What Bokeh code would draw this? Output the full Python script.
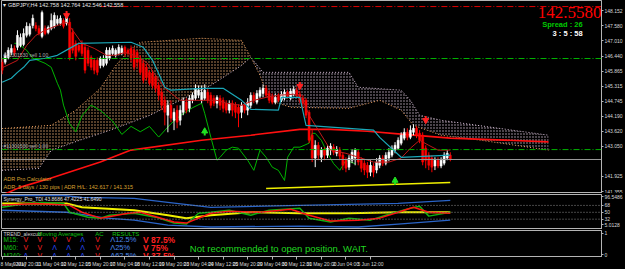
import numpy as np
from bokeh.plotting import figure
from bokeh.layouts import column
from bokeh.models import (Range1d, LinearAxis, FixedTicker, Label, Span, ColumnDataSource,
                          PrintfTickFormatter)
from bokeh.core.properties import value
from bokeh.embed import file_html
from bokeh.resources import INLINE

# ---------------- data ----------------
opens = [146.21,146.21,146.39,146.58,146.73,146.77,146.84,146.88,147.22,147.26,
         147.59,147.59,147.48,147.18,147.48,147.33,147.48,147.56,147.67,147.67,
         147.78,147.67,147.71,147.33,146.92,146.84,146.92,146.77,146.66,146.39,
         146.28,146.28,146.09,146.09,146.17,146.36,146.54,146.47,146.54,146.54,
         146.77,146.66,146.73,146.66,146.58,146.36,146.17,146.02,145.83,145.79,
         145.64,145.34,145.08,144.78,144.22,144.59,144.03,144.41,144.03,144.33,
         144.71,144.48,144.78,144.86,144.97,144.78,144.86,145.08,144.97,144.86,
         144.67,144.86,144.78,144.67,144.41,144.67,144.59,144.52,144.33,144.59,
         144.41,144.59,144.97,144.71,144.93,145.04,145.23,145.04,144.93,144.71,
         144.93,144.78,144.86,145.08,144.86,145.01,145.16,145.01,144.86,144.78,
         144.33,143.47,142.61,143.09,142.64,142.91,142.72,142.91,143.02,142.79,
         142.91,142.72,142.53,142.27,142.53,142.61,142.83,142.53,142.42,142.34,
         142.08,142.31,142.16,142.34,142.61,142.42,142.61,142.72,142.91,142.98,
         143.17,143.36,143.58,143.39,143.58,143.73,143.54,143.47,142.98,142.72,
         142.61,142.31,142.53,142.31,142.42,142.61,142.72]
closes = [145.91,146.47,146.66,146.73,146.58,147.22,147.14,147.29,147.56,147.56,
          147.86,147.48,147.29,148.08,147.29,147.52,147.78,147.97,147.82,147.86,
          147.56,147.93,146.39,146.66,146.43,146.66,146.54,145.91,146.17,146.02,
          145.91,145.83,146.36,146.36,146.66,146.66,146.73,146.66,146.77,146.73,
          146.54,146.54,146.36,146.02,146.21,145.83,145.53,145.64,145.42,145.34,
          145.23,144.97,144.59,144.33,144.59,144.11,144.33,143.96,144.41,144.78,
          144.41,144.86,144.97,145.23,145.16,145.08,145.16,144.78,144.59,144.67,
          144.89,144.59,144.48,144.41,144.67,144.41,144.33,144.29,144.59,144.41,
          144.71,144.97,144.78,145.04,145.16,145.23,144.97,144.78,144.71,144.89,
          144.78,145.01,145.08,144.93,145.12,145.19,144.97,144.78,144.67,144.22,
          143.28,142.61,143.09,142.72,142.91,142.72,142.98,143.06,142.83,142.94,
          142.68,142.34,142.23,142.61,142.83,142.91,142.46,142.23,142.16,142.08,
          142.34,142.08,142.46,142.61,142.42,142.72,142.83,142.98,143.09,143.28,
          143.47,143.58,143.39,143.66,143.73,143.47,143.28,142.46,142.53,142.34,
          142.27,142.53,142.31,142.53,142.72,142.79,142.56]
highs = [146.36,146.58,146.77,146.88,146.84,147.41,147.29,147.48,147.71,147.67,
         148.00,147.71,147.59,148.15,147.59,147.59,148.04,148.08,147.97,147.97,
         147.86,148.08,147.86,147.48,147.03,146.96,147.03,146.88,146.77,146.47,
         146.36,146.39,146.43,146.47,146.77,146.77,146.84,146.73,146.88,146.84,
         146.84,146.73,146.84,146.77,146.66,146.47,146.28,146.13,145.91,145.91,
         145.72,145.46,145.23,144.93,144.78,144.78,144.48,144.59,144.59,144.89,
         144.86,144.97,145.08,145.38,145.34,145.34,145.38,145.23,145.08,144.97,
         144.97,144.97,144.89,144.78,144.78,144.78,144.71,144.63,144.71,144.71,
         144.86,145.08,145.08,145.16,145.27,145.38,145.34,145.16,145.04,145.04,
         145.04,145.12,145.19,145.16,145.23,145.31,145.27,145.12,144.97,144.86,
         144.41,143.66,143.28,143.21,143.02,143.02,143.09,143.17,143.13,143.06,
         143.02,142.83,142.64,142.72,142.94,142.98,142.91,142.64,142.53,142.46,
         142.53,142.42,142.61,142.72,142.72,142.83,142.98,143.09,143.21,143.39,
         143.58,143.73,143.73,143.84,143.88,143.81,143.66,143.58,143.09,142.83,
         142.72,142.64,142.64,142.64,142.83,142.91,142.83]
lows = [145.76,146.13,146.32,146.47,146.43,146.66,146.77,146.81,147.14,147.18,
        147.48,147.37,147.22,147.11,147.22,147.26,147.41,147.48,147.59,147.59,
        147.48,147.59,146.28,146.54,146.28,146.58,146.43,145.79,146.06,145.91,
        145.76,145.72,145.98,146.02,146.09,146.28,146.47,146.39,146.47,146.47,
        146.43,146.47,146.21,145.91,146.02,145.72,145.42,145.53,145.34,145.23,
        145.08,144.78,144.41,143.84,143.58,143.96,143.66,143.73,143.84,144.22,
        144.29,144.33,144.67,144.78,144.86,144.67,144.78,144.67,144.48,144.56,
        144.48,144.41,144.33,144.29,144.29,144.18,144.11,143.77,144.11,144.29,
        144.22,144.48,144.67,144.63,144.86,144.89,144.89,144.67,144.63,144.63,
        144.71,144.71,144.78,144.86,144.78,144.93,144.89,144.67,144.48,144.11,
        143.17,142.46,142.27,142.53,142.46,142.53,142.61,142.72,142.72,142.68,
        142.53,142.16,142.08,142.16,142.42,142.34,142.34,142.08,141.97,141.86,
        141.93,141.89,142.04,142.23,142.31,142.34,142.49,142.64,142.79,142.91,
        143.09,143.28,143.28,143.32,143.47,143.36,143.17,142.34,142.23,142.16,
        142.08,142.16,142.23,142.23,142.34,142.53,142.49]

# Ichimoku lines (bar, price vertices)
kijun_bars = [0, 3, 5, 7, 9, 14, 18, 22, 25, 42, 46, 49, 51, 53, 55, 65, 72, 78, 81, 90, 91, 97, 99, 121, 123, 130, 146]
kijun_vals = [145.46, 145.61, 145.83, 146.02, 146.28, 146.36, 146.47, 146.73, 146.92, 146.96, 146.77, 146.28,
              145.79, 145.27, 145.16, 145.23, 145.23, 144.78, 144.44, 144.41, 144.89, 144.89, 143.84, 143.66,
              143.39, 142.64, 142.72]
tenkan_bars = [0, 5, 8, 11, 14, 18, 21, 23, 26, 30, 34, 37, 40, 43, 47, 50, 53, 58, 63, 70, 73, 78, 82, 86,
               90, 95, 98, 100, 103, 107, 112, 117, 121, 126, 130, 133, 136, 139, 142, 146]
tenkan_vals = [146.00, 146.28, 146.84, 147.22, 147.41, 147.59, 147.71, 147.41, 146.92, 146.73, 146.47, 146.47,
               146.58, 146.47, 146.21, 145.72, 145.23, 144.78, 144.78, 144.78, 144.67, 144.59, 144.78, 144.89,
               144.97, 145.01, 144.78, 144.22, 143.66, 142.91, 142.79, 142.61, 142.46, 142.46, 142.61, 142.98,
               143.28, 143.09, 142.91, 142.91]
chikou_bars = [4, 5, 8, 10, 14, 16, 18, 19, 20, 22, 24, 26, 29, 32, 36, 39, 42, 45, 48, 51, 55, 58, 62, 65,
               66, 68, 70, 71, 73, 75, 77, 80, 82, 84, 86, 88, 90, 92, 93, 95, 97, 100, 101, 102, 104, 106,
               108, 110, 112, 115]
chikou_vals = [146.92, 146.92, 146.66, 146.36, 146.17, 146.02, 145.42, 145.16, 144.60, 143.90, 143.60, 144.20,
               144.60, 144.40, 144.00, 143.50, 143.80, 143.60, 143.80, 143.40, 143.90, 144.20, 144.50, 144.67,
               144.29, 143.39, 142.53, 142.64, 142.91, 143.02, 142.98, 142.53, 142.15, 142.91, 142.64, 142.27,
               142.15, 141.77, 142.64, 143.02, 143.02, 143.17, 143.54, 143.54, 143.28, 142.79, 142.40, 142.15,
               142.53, 142.40]
spanA_bars = [0, 16, 24, 32, 37, 42, 45, 65, 78, 81, 84, 87, 94, 113, 123, 130, 134, 143, 156, 178]
spanA_vals = [143.72, 143.84, 144.41, 145.23, 146.09, 146.73, 146.96, 147.11, 147.03, 146.40, 145.72, 144.78,
              144.52, 144.48, 144.78, 144.41, 143.84, 143.47, 143.28, 142.91]
spanB_bars = [0, 12, 16, 25, 35, 48, 58, 68, 78, 81, 85, 97, 113, 116, 130, 133, 136, 143, 178]
spanB_vals = [142.15, 142.22, 142.90, 143.27, 143.65, 144.21, 144.78, 145.34, 146.09, 146.40, 145.83, 145.83,
              145.83, 145.27, 145.16, 144.78, 144.22, 144.03, 143.47]
ma_bars = [0, 6, 16, 32, 42, 65, 81, 97, 107, 119, 130, 146, 178]
ma_vals = [141.22, 141.52, 141.86, 142.46, 142.91, 143.28, 143.47, 143.69, 143.69, 143.62, 143.51, 143.36,
           143.22]
adr_bars = [86, 146]
adr_vals = [141.47, 141.69]
sell_arrow_bars = [21, 97, 138]
sell_arrow_vals = [147.97, 145.31, 144.03]
buy_arrow_bars = [66, 128]
buy_arrow_vals = [143.62, 141.77]
bid = 142.558
order_levels = [146.35, 142.93]
stop_level = 148.30
price_ticks = [148.152, 147.580, 147.010, 146.440, 145.865, 145.315, 144.745, 144.190, 143.620, 143.050,
               141.925, 141.355]

# TDI (bar, value vertices)
tdi_up_bars = [0, 20, 26, 43, 54, 68, 97, 129, 146]
tdi_up_vals = [93.97, 93.97, 88.8, 86.2, 75.9, 63.0, 68.2, 73.3, 81.1]
tdi_lo_bars = [0, 21, 34, 43, 54, 68, 97, 116, 129, 146]
tdi_lo_vals = [55.3, 50.1, 34.7, 29.5, 16.6, 11.5, 14.1, 11.5, 19.2, 29.5]
tdi_base_bars = [0, 21, 26, 43, 54, 60, 68, 81, 97, 113, 129, 146]
tdi_base_vals = [73.3, 73.3, 63.0, 55.3, 42.4, 34.7, 42.4, 50.1, 47.6, 47.6, 50.1, 50.1]
tdi_rsi_bars = [0, 8, 13, 20, 22, 28, 32, 35, 43, 50, 56, 60, 64, 68, 74, 81, 87, 97, 100, 107, 113, 120,
                126, 133, 136, 139, 146]
tdi_rsi_vals = [63.0, 73.3, 75.9, 73.3, 50.1, 37.3, 34.7, 42.4, 47.6, 37.3, 21.8, 19.2, 47.6, 50.1, 55.3,
                42.4, 55.3, 60.5, 34.7, 24.4, 34.7, 29.5, 45.0, 60.5, 65.6, 40.0, 50.1]
tdi_sig_bars = [0, 11, 22, 26, 32, 41, 45, 56, 60, 68, 74, 84, 94, 100, 107, 116, 123, 129, 134, 139, 146]
tdi_sig_vals = [68.2, 73.3, 68.2, 50.1, 34.7, 47.6, 50.1, 24.4, 21.8, 47.6, 52.7, 50.1, 57.9, 42.4, 27.0,
                29.5, 34.7, 50.1, 63.0, 50.1, 47.6]
tdi_levels = [68, 50, 32]

# time axis
tick_bars = [0, 8, 16, 24, 32, 40, 48, 56, 64, 72, 80, 88, 96, 104, 112, 120]
tick_labels = ["8 May 2017", "9 May 20:00", "11 May 04:00", "12 May 12:00", "15 May 20:00", "17 May 04:00",
               "18 May 12:00", "19 May 20:00", "23 May 04:00", "24 May 12:00", "25 May 20:00",
               "29 May 04:00", "30 May 12:00", "31 May 20:00", "2 Jun 04:00", "5 Jun 12:00"]

# signal table
timeframes = ["M15:", "M60:", "M240:"]
ma_signals = [["V", "V", "V", "V", "Λ", "V"],
              ["V", "V", "Λ", "Λ", "Λ", "V"],
              ["Λ", "V", "Λ", "Λ", "Λ", "V"]]
up_pct = ["12.5%", "25%", "62.5%"]
down_pct = ["87.5%", "75%", "37.5%"]

# ---------------- layout helpers ----------------
FRAME = "#b4b4b4"
FONT = "Liberation Sans"
W = 625
RB = 22
FW = W - 1 - RB
PXBAR = 3.08
XS = -0.2
XE = XS + FW / PXBAR
xr = Range1d(XS, XE)
MAIN_TOP, MAIN_PX = 148.528, 0.03755
MAIN_BOT = MAIN_TOP - 193 * MAIN_PX


def bx(px):
    return XS + (px - 1) / PXBAR


def my(py):
    return MAIN_TOP - py * MAIN_PX


def make(h, ylo, yhi, top, bottom=0):
    f = figure(width=W, height=h, x_range=xr, y_range=Range1d(ylo, yhi),
               output_backend="svg", toolbar_location=None,
               x_axis_location=None, y_axis_location=None,
               min_border_left=1, min_border_right=RB, min_border_top=top,
               min_border_bottom=bottom,
               background_fill_color="black", border_fill_color="black",
               outline_line_color=FRAME, outline_line_width=1)
    f.grid.visible = False
    return f


def raxis(f, ticks):
    ax = LinearAxis(ticker=FixedTicker(ticks=ticks), axis_line_color=FRAME,
                    major_tick_line_color=FRAME, major_tick_out=2, major_tick_in=0,
                    minor_tick_line_color=None, major_label_text_color="#d8d8d8",
                    major_label_text_font_size="5px", major_label_standoff=1,
                    major_label_text_font=FONT)
    f.add_layout(ax, "right")
    return ax


# ---------------- main panel ----------------
p = make(193, MAIN_BOT, MAIN_TOP, 0)
ax = raxis(p, price_ticks)
ax.formatter = PrintfTickFormatter(format="%.3f")

# cloud: left part (span A above), right part (span B above)
ka = spanA_bars.index(81)
kb = spanB_bars.index(81)
left_x = spanA_bars[:ka + 1] + spanB_bars[:kb + 1][::-1]
left_y = spanA_vals[:ka + 1] + spanB_vals[:kb + 1][::-1]
right_x = spanB_bars[kb:] + spanA_bars[ka:][::-1]
right_y = spanB_vals[kb:] + spanA_vals[ka:][::-1]
p.patch(left_x, left_y, fill_color=None, line_color=None, hatch_pattern="dot",
        hatch_color="#d29a66", hatch_scale=3, hatch_weight=1.2)
p.patch(right_x, right_y, fill_color=None, line_color=None, hatch_pattern="dot",
        hatch_color="#b8a8b8", hatch_scale=3, hatch_weight=1.2)
p.line(spanA_bars, spanA_vals, line_color="#f4a460", line_dash="1 2", line_width=1)
p.line(spanB_bars, spanB_vals, line_color="#d8bfd8", line_dash="1 2", line_width=1)

# horizontal levels
p.add_layout(Span(location=bid, dimension="width", line_color="#9a9a9a", line_width=1))
for lv in order_levels:
    p.add_layout(Span(location=lv, dimension="width", line_color="#00b000", line_width=1,
                      line_dash="6 2 1 2"))
p.segment(x0=[32], y0=[stop_level], x1=[XE], y1=[stop_level], line_color="#e00000",
          line_width=1, line_dash="6 2 1 2")

# moving average, adr line
p.line(ma_bars, ma_vals, line_color="#ff1010", line_width=1.6)
p.line(adr_bars, adr_vals, line_color="#f0f000", line_width=1.5)

# chikou
p.line(chikou_bars, chikou_vals, line_color="#00b400", line_width=1)

# candles
idx = list(range(len(closes)))
up = [c >= o for o, c in zip(opens, closes)]
cols = ["#ffffff" if u else "#ff0000" for u in up]
src = ColumnDataSource(dict(x=idx, o=opens, c=closes, h=highs, l=lows,
                            top=[max(o, c) for o, c in zip(opens, closes)],
                            bot=[min(o, c) for o, c in zip(opens, closes)], col=cols))
p.segment(x0="x", y0="h", x1="x", y1="l", line_color="col", line_width=1, source=src)
p.vbar(x="x", top="top", bottom="bot", width=0.66, fill_color="col", line_color="col",
       line_width=0.5, source=src)

# tenkan / kijun
p.line(tenkan_bars, tenkan_vals, line_color="#c01818", line_width=1)
p.line(kijun_bars, kijun_vals, line_color="#1aa8b8", line_width=1.2)

# arrows
p.segment(x0=sell_arrow_bars, y0=[v + 0.16 for v in sell_arrow_vals], x1=sell_arrow_bars,
          y1=sell_arrow_vals, line_color="#ff2020", line_width=2)
p.scatter(sell_arrow_bars, sell_arrow_vals, marker="inverted_triangle", size=6,
          fill_color="#ff2020", line_color="#ff2020")
p.segment(x0=buy_arrow_bars, y0=[v - 0.16 for v in buy_arrow_vals], x1=buy_arrow_bars,
          y1=buy_arrow_vals, line_color="#20e020", line_width=2)
p.scatter(buy_arrow_bars, buy_arrow_vals, marker="triangle", size=6,
          fill_color="#20e020", line_color="#20e020")


def lab(fig, x, y, text, color, size, align="left", style="normal", font=FONT, **kw):
    fig.add_layout(Label(x=x, y=y, text=text, text_color=color, text_font_size=size,
                         text_align=align, text_baseline="middle", text_font_style=style,
                         text_font=font, **kw))


lab(p, bx(3), my(4), "▾ GBPJPY,H4  142.758 142.764 142.546 142.558", "#e8e8e8", "5.5px")
lab(p, bx(603), my(12), "142.5580", "#ff0000", "17px", align="right", font="Liberation Serif")
lab(p, bx(584), my(24), "Spread : 26", "#00c800", "7.5px", align="right", style="bold")
lab(p, bx(584), my(33), "3 : 5 : 58", "#ffffff", "7.5px", align="right", style="bold")
lab(p, bx(3), my(54), "#11301530 sell 1.00", "#b0b0b0", "5px")
lab(p, bx(3), my(145), "#11301530 sell 1.00", "#b0b0b0", "5px")
lab(p, bx(3), my(178), "ADR Pro Calculator", "#d8a030", "5.5px")
lab(p, bx(3), my(186), "ADR: 5 days / 130 pips | ADR H/L: 142.617 / 141.315", "#d8a030", "5.5px")
p.add_layout(Label(x=XE, x_offset=1, y=bid, text="142.558", text_color="black",
                   text_font_size="5px", text_baseline="middle", text_font=FONT,
                   background_fill_color="white"))

# ---------------- TDI panel ----------------
T_TOP, T_BOT = 96.5486, 5.0128
T_PX = (T_TOP - T_BOT) / 35


def ty(py):
    return T_TOP - (py - 194) * T_PX


p2 = make(36, T_BOT, T_TOP, 1)
ax2 = raxis(p2, [ty(196), 68, 50, 32, ty(224)])
ax2.major_label_overrides = {ty(196): "96.5486", 68: "68", 50: "50", 32: "32", ty(224): "5.0128"}
for lv in tdi_levels:
    p2.add_layout(Span(location=lv, dimension="width", line_color="#8a8a8a", line_width=1,
                       line_dash="1 2"))
p2.line(tdi_up_bars, tdi_up_vals, line_color="#2a64c8", line_width=1.3)
p2.line(tdi_lo_bars, tdi_lo_vals, line_color="#2a64c8", line_width=1.3)
p2.line(tdi_base_bars, tdi_base_vals, line_color="#f0f000", line_width=2)
p2.line(tdi_rsi_bars, tdi_rsi_vals, line_color="#10b010", line_width=1.5)
p2.line(tdi_sig_bars, tdi_sig_vals, line_color="#ff1010", line_width=1.5)
lab(p2, bx(3), ty(198), "Synergy_Pro_TDI 43.8686 47.4225 41.6490", "#e0e0e0", "5px")

# ---------------- signal panel ----------------
S_TOP = 1.125
S_BOT = S_TOP - 29 / 24


def sy(py):
    return S_TOP - (py - 230) / 24


p3 = make(40, S_BOT, S_TOP, 1, bottom=10)
raxis(p3, [0, 1])
xax = LinearAxis(ticker=FixedTicker(ticks=tick_bars),
                 major_label_overrides=dict(zip(tick_bars, tick_labels)),
                 axis_line_color=FRAME, major_tick_line_color=FRAME, major_tick_out=3,
                 major_tick_in=0, minor_tick_line_color=None, major_label_text_color="#d8d8d8",
                 major_label_text_font_size="5px", major_label_standoff=1,
                 major_label_text_font=FONT, major_label_text_align="left")
p3.add_layout(xax, "below")

tx, tyy, tt, tc, ts, tw = [], [], [], [], [], []


def add(x, y, t, c, s, w="normal"):
    tx.append(bx(x)); tyy.append(sy(y)); tt.append(t); tc.append(c); ts.append(s); tw.append(w)


add(3, 233.5, "TREND_alexcud", "#d0d0d0", "5px")
add(37, 233.5, "Moving Averages", "#10c010", "6px")
add(95, 233.5, "AC", "#10c010", "6px")
add(112, 233.5, "RESULTS", "#10c010", "6px")
sym_x = [23, 37, 52, 66, 80, 95]
for r, (tf, sigs, u, d) in enumerate(zip(timeframes, ma_signals, up_pct, down_pct)):
    yy = 240.5 + 8.7 * r
    add(3, yy, tf, "#10c010", "6.5px")
    for sx, sg in zip(sym_x, sigs):
        add(sx, yy, sg, "#ff2020" if sg == "V" else "#2a4cff", "7px")
    add(110, yy, "Λ" + u, "#4a86e8", "7.5px")
    add(143, yy, "V " + d, "#ff2020", "8.5px", "bold")
src3 = ColumnDataSource(dict(x=tx, y=tyy, t=tt, c=tc, s=ts, w=tw))
p3.text(x="x", y="y", text="t", text_color="c", text_font_size="s", text_font_style="w",
        text_baseline="middle", text_font=value(FONT), source=src3)
p3.text(x=[bx(190)], y=[sy(250)], text=["Not recommended to open position. WAIT."],
        text_color="#20d820", text_font_size="9.5px", text_baseline="middle",
        text_font=value(FONT))

layout = column(p, p2, p3, spacing=0, styles={"background-color": "black"})
open("out.html", "w").write(file_html(layout, INLINE))
